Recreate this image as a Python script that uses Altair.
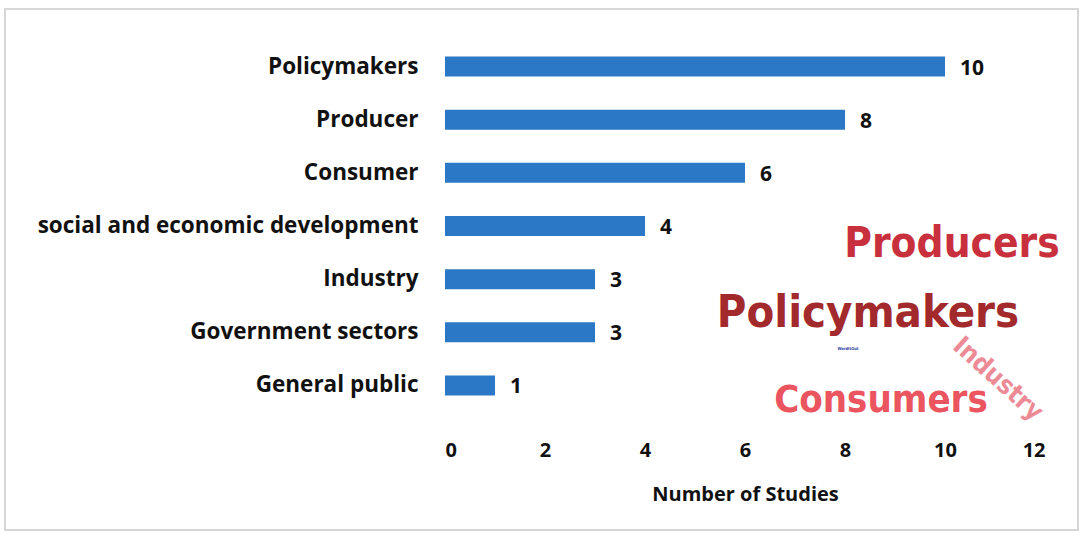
import altair as alt
import pandas as pd

categories = ["Policymakers", "Producer", "Consumer", "social and economic development",
              "Industry", "Government sectors", "General public"]
values = [10, 8, 6, 4, 3, 3, 1]
x_ticks = [0, 2, 4, 6, 8, 10, 12]
cloud_words = ["Producers", "Policymakers", "Consumers", "Industry", "WordItOut"]

df = pd.DataFrame({"cat": categories, "n": values})

W, H = 600, 372
LFONT = "Open Sans"
FS = 22.5
CFONT = "'DejaVu Sans Condensed', 'Liberation Sans Narrow', 'Roboto Condensed', 'Liberation Sans', sans-serif"

frame = alt.Chart(pd.DataFrame({"a": [0]})).mark_rect(
    fillOpacity=0, stroke="#d6d6d6", strokeWidth=2, clip=False
).encode(x=alt.value(-440), x2=alt.value(633), y=alt.value(-31), y2=alt.value(490))

base = alt.Chart(df)

bars = base.mark_bar(color="#2a78c6", size=20).encode(
    x=alt.X("n:Q", scale=alt.Scale(domain=[0, 12]),
            axis=alt.Axis(values=x_ticks, title="Number of Studies", grid=False,
                          domain=False, ticks=False, labelPadding=28,
                          labelFontSize=20, labelFontWeight="bold", labelFont=LFONT,
                          labelColor="#111", titleFontSize=20, titleFontWeight="bold",
                          titleFont=LFONT, titleColor="#111", titlePadding=24)),
    y=alt.Y("cat:N", sort=categories,
            axis=alt.Axis(title=None, domain=False, ticks=False, labelPadding=27,
                          labelFontSize=FS, labelFontWeight="bold", labelFont=LFONT,
                          labelColor="#111", labelLimit=500)),
)

labels = base.mark_text(align="left", baseline="middle", dx=15, dy=2, fontSize=21,
                        fontWeight="bold", font=LFONT, color="#111").encode(
    x="n:Q", y=alt.Y("cat:N", sort=categories), text="n:Q")

def word(i, x, y, size, color, angle=0):
    return alt.Chart(pd.DataFrame({"w": [cloud_words[i]]})).mark_text(
        font=CFONT, fontWeight="bold", fontSize=size, color=color,
        align="center", baseline="middle", angle=angle, clip=False
    ).encode(x=alt.value(x), y=alt.value(y), text="w:N")

cloud = (word(0, 507, 204, 42, "#c9303e")
         + word(1, 423, 273, 45, "#a32a2c")
         + word(2, 436, 361, 38, "#ea5560")
         + word(3, 553, 339, 26, "#ec8a95", angle=42)
         + word(4, 403, 309, 4, "#2a3aa0"))

chart = (frame + bars + labels + cloud).properties(
    width=W, height=H,
    background="white",
    autosize=alt.AutoSizeParams(type="none"),
    padding={"left": 445, "top": 40, "right": 38, "bottom": 124},
).configure_view(strokeWidth=0, stroke="transparent")

chart.save("out.html", embed_options={"renderer": "svg", "actions": False})
